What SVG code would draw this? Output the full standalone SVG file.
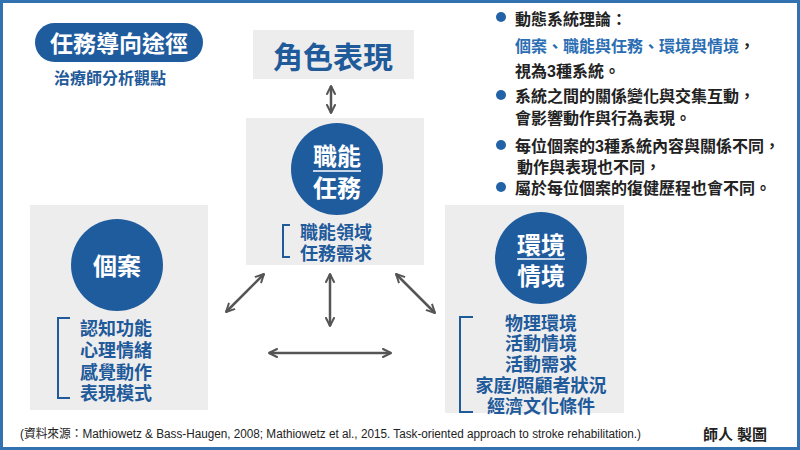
<svg xmlns="http://www.w3.org/2000/svg" width="800" height="450" viewBox="0 0 800 450">
<style>
text{font-family:"Liberation Sans","Noto Sans CJK TC",sans-serif;font-weight:bold;dominant-baseline:central}
.box{fill:#ededee}
.circ{fill:#1f5c9e}
.wt{fill:#fff;font-size:24px;text-anchor:middle}
.it{fill:#1f5a9a;font-size:18px}
.br{fill:none;stroke:#1f5a9a;stroke-width:2}
.bt{fill:#222;font-size:16px}
.dot{fill:#2462a8}
.arr{stroke:#555;stroke-width:2.5;fill:none;marker-start:url(#ah);marker-end:url(#ah)}
</style>
<defs>
<marker id="ah" viewBox="0 0 10 10" refX="9" refY="5" markerWidth="10" markerHeight="10" markerUnits="userSpaceOnUse" orient="auto-start-reverse">
<path d="M1,1 L9,5 L1,9" fill="none" stroke="#555" stroke-width="2" stroke-linecap="round" stroke-linejoin="round"/>
</marker>
</defs>
<rect x="0" y="0" width="800" height="450" fill="#fff"/>
<rect x="1.5" y="1.5" width="797" height="447" fill="none" stroke="#3272b0" stroke-width="3"/>

<g id="title">
<rect x="35" y="23" width="168" height="39" rx="19.5" fill="#1f5c9e"/>
<text x="119" y="44" fill="#fff" font-size="23" text-anchor="middle">任務導向途徑</text>
<text x="110" y="78" fill="#1f5a9a" font-size="16" text-anchor="middle">治療師分析觀點</text>
</g>

<g id="role">
<rect class="box" x="253" y="30" width="161" height="49"/>
<text x="333" y="57" fill="#1f5a9a" font-size="30" text-anchor="middle">角色表現</text>
</g>

<g id="task">
<rect class="box" x="246" y="118" width="178" height="147"/>
<circle class="circ" cx="337" cy="169" r="46"/>
<text class="wt" x="337" y="156">職能</text>
<line x1="313" y1="171" x2="361" y2="171" stroke="#fff" stroke-width="1.5"/>
<text class="wt" x="337" y="188">任務</text>
<path class="br" d="M290,225 H283 V257 H290"/>
<text class="it"><tspan x="300" y="233">職能領域</tspan><tspan x="300" y="254">任務需求</tspan></text>
</g>

<g id="person">
<rect class="box" x="30" y="205" width="178" height="205"/>
<circle class="circ" cx="117" cy="265" r="46"/>
<text class="wt" x="117" y="266">個案</text>
<path class="br" d="M70,318 H58 V398 H70"/>
<text class="it"><tspan x="80" y="329">認知功能</tspan><tspan x="80" y="351">心理情緒</tspan><tspan x="80" y="373">感覺動作</tspan><tspan x="80" y="394">表現模式</tspan></text>
</g>

<g id="env">
<rect class="box" x="445" y="205" width="179" height="208"/>
<circle class="circ" cx="541" cy="258" r="46"/>
<text class="wt" x="541" y="245">環境</text>
<line x1="517" y1="259" x2="565" y2="259" stroke="#fff" stroke-width="1.5"/>
<text class="wt" x="541" y="276">情境</text>
<path class="br" d="M473,317 H460 V412 H473"/>
<text class="it" text-anchor="middle"><tspan x="541" y="324">物理環境</tspan><tspan x="541" y="344">活動情境</tspan><tspan x="541" y="365">活動需求</tspan><tspan x="541" y="386">家庭/照顧者狀況</tspan><tspan x="541" y="407">經濟文化條件</tspan></text>
</g>

<g id="connectors">
<line class="arr" x1="331" y1="86" x2="331" y2="113"/>
<line class="arr" x1="226" y1="312" x2="264" y2="274"/>
<line class="arr" x1="330" y1="274" x2="330" y2="326"/>
<line class="arr" x1="396" y1="274" x2="435" y2="313"/>
<line class="arr" x1="269" y1="353" x2="391" y2="353"/>
</g>

<g id="notes">
<circle class="dot" cx="501" cy="17" r="5"/>
<circle class="dot" cx="501" cy="95" r="5"/>
<circle class="dot" cx="501" cy="145" r="5"/>
<circle class="dot" cx="501" cy="187" r="5"/>
<text class="bt"><tspan x="515" y="19">動態系統理論：</tspan><tspan x="515" y="46" fill="#2a6db3">個案、職能與任務、環境與情境</tspan><tspan>，</tspan><tspan x="515" y="71">視為3種系統。</tspan><tspan x="515" y="96">系統之間的關係變化與交集互動，</tspan><tspan x="515" y="118">會影響動作與行為表現。</tspan><tspan x="515" y="146">每位個案的3種系統內容與關係不同，</tspan><tspan x="517" y="167">動作與表現也不同，</tspan><tspan x="515" y="188">屬於每位個案的復健歷程也會不同。</tspan></text>
</g>

<g id="footer">
<text x="20" y="434" fill="#222" font-size="12" style="font-weight:normal" textLength="621" lengthAdjust="spacingAndGlyphs">(資料來源：Mathiowetz &amp; Bass-Haugen, 2008;  Mathiowetz et al., 2015. Task-oriented approach to stroke rehabilitation.)</text>
<text x="735" y="434" fill="#222" font-size="15" text-anchor="middle">師人 製圖</text>
</g>
</svg>
